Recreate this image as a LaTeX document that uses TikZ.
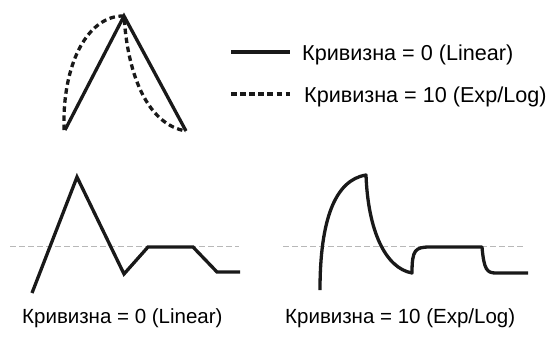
\documentclass[tikz,border=0pt]{standalone}
\usepackage{fontspec}
\setmainfont{Liberation Sans}
\begin{document}
\begin{tikzpicture}[x=1pt,y=-1pt,
  curve/.style={line width=3.3pt, black!90},
  dcurve/.style={line width=3.3pt, black!90, dash pattern=on 5.5pt off 3.6pt},
  level/.style={line width=1pt, black!28, dash pattern=on 5.5pt off 3.5pt},
  legtext/.style={anchor=base west, inner sep=0pt, font=\fontsize{21.6}{24}\selectfont},
  captext/.style={anchor=base west, inner sep=0pt, font=\fontsize{20.5}{24}\selectfont}]
\useasboundingbox (0,0) rectangle (546,338);
% top example
\coordinate (tl) at (65,130);
\coordinate (tp) at (124,16);
\coordinate (tr) at (186,131);
\draw[curve] (tl) -- (tp) -- (tr);
\draw[dcurve] (64,130) .. controls (62,60) and (90,15) .. (tp) .. controls (128,80) and (150,125) .. (tr);
% legend
\coordinate (l1a) at (231,52);
\coordinate (l1b) at (290,52);
\coordinate (l2a) at (231,94);
\coordinate (l2b) at (290,94);
\draw[curve] (l1a) -- (l1b);
\draw[dcurve] (l2a) -- (l2b);
\node[legtext] (lt1) at (302,60) {Кривизна = 0 (Linear)};
\node[legtext] (lt2) at (304,102) {Кривизна = 10 (Exp/Log)};
% bottom left
\coordinate (s1) at (10,246.5);
\coordinate (s2) at (239,246.5);
\draw[level] (s1) -- (s2);
\coordinate (a0) at (32,293);
\coordinate (a1) at (77,177);
\coordinate (a2) at (124,274);
\coordinate (a3) at (148,247);
\coordinate (a4) at (193,247);
\coordinate (a5) at (217,272);
\coordinate (a6) at (240,272);
\draw[curve] (a0) -- (a1) -- (a2) -- (a3) -- (a4) -- (a5) -- (a6);
% bottom right
\coordinate (r1) at (283,246.5);
\coordinate (r2) at (523,246.5);
\draw[level] (r1) -- (r2);
\coordinate (b0) at (320,290);
\coordinate (b1) at (366,175);
\coordinate (b2) at (412,273);
\coordinate (b3) at (430,247);
\coordinate (b4) at (482,247);
\coordinate (b5) at (496,273);
\coordinate (b6) at (528,273);
\draw[curve, line join=round] (b0) .. controls (320,220) and (335,180) .. (b1)
  .. controls (368,230) and (385,268) .. (b2)
  .. controls (412,250) and (415,247) .. (b3) -- (b4)
  .. controls (484,270) and (487,273) .. (b5) -- (b6);
% captions
\node[captext] (c1) at (22,323) {Кривизна = 0 (Linear)};
\node[captext] (c2) at (285,323) {Кривизна = 10 (Exp/Log)};
\end{tikzpicture}
\end{document}
